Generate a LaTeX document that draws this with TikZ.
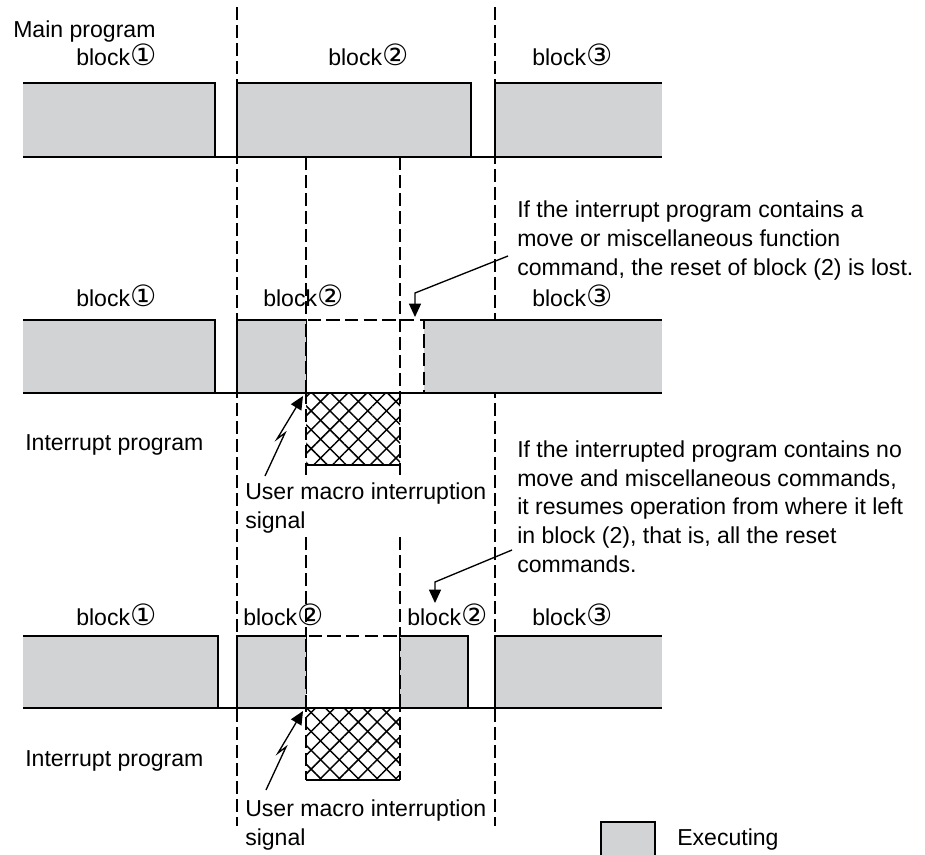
\documentclass[tikz,border=0pt]{standalone}
\usepackage{fontspec}
\setmainfont{Liberation Sans}
\newfontfamily\circfont{DejaVu Sans}
\usetikzlibrary{arrows.meta,patterns.meta}
\definecolor{execgray}{RGB}{209,211,212}
\newcommand{\blocklabel}[1]{block{\circfont\fontsize{22}{22}\selectfont #1}}

\begin{document}
\begin{tikzpicture}[x=0.75pt, y=-0.75pt,
    txt/.style={anchor=base west, inner sep=0pt, font=\fontsize{17.3}{21.4}\selectfont},
    note/.style={txt, align=left},
    exec/.style={fill=execgray},
    rowline/.style={line width=1.4pt},
    guide/.style={line width=1pt, dash pattern=on 9.5pt off 4pt},
    gapline/.style={line width=1.1pt, dash pattern=on 10pt off 4pt},
    hatchl/.style={pattern={Lines[angle=45,distance=10pt,line width=1.1pt]}},
    hatchr/.style={pattern={Lines[angle=-45,distance=10pt,line width=1.1pt]}},
    arr/.style={-{Triangle[width=9pt,length=10pt]}, line width=1pt}
]
    \useasboundingbox (0,0) rectangle (925,854);

    % interrupt program (hatched)
    \fill[hatchl] (306,393) rectangle (400,465);
    \fill[hatchr] (306,393) rectangle (400,465);
    \draw[rowline] (306,465) -- (400,465);
    \fill[hatchl] (306,708) rectangle (400,780);
    \fill[hatchr] (306,708) rectangle (400,780);
    \draw[rowline] (306,780) -- (400,780);

    % guide lines
    \draw[guide] (237,7) -- (237,826);
    \draw[guide] (495,7) -- (495,826);
    \draw[guide] (306,157) -- (306,475);
    \draw[guide] (400,157) -- (400,475);
    \draw[guide] (306,537) -- (306,780);
    \draw[guide] (400,537) -- (400,780);

    % main program
    \fill[exec] (23,83) rectangle (215,157);
    \fill[exec] (237,83) rectangle (471,157);
    \fill[exec] (495,83) rectangle (662,157);
    \draw[rowline] (23,83) -- (215,83) -- (215,157);
    \draw[rowline] (237,157) -- (237,83) -- (471,83) -- (471,157);
    \draw[rowline] (495,157) -- (495,83) -- (662,83);
    \draw[rowline] (23,157) -- (662,157);

    % reset of block 2 lost
    \fill[exec] (23,320) rectangle (215,393);
    \fill[exec] (237,320) rectangle (306,393);
    \fill[exec] (424,320) rectangle (662,393);
    \draw[rowline] (23,320) -- (215,320) -- (215,393);
    \draw[rowline] (237,393) -- (237,320) -- (306,320);
    \draw[rowline] (424,320) -- (662,320);
    \draw[rowline] (23,393) -- (662,393);
    \draw[gapline] (306,393) -- (306,320) -- (424,320) -- (424,393);

    % block 2 resumed
    \fill[exec] (23,636) rectangle (218,708);
    \fill[exec] (237,636) rectangle (306,708);
    \fill[exec] (400,636) rectangle (468,708);
    \fill[exec] (495,636) rectangle (662,708);
    \draw[rowline] (23,636) -- (218,636) -- (218,708);
    \draw[rowline] (237,708) -- (237,636) -- (306,636);
    \draw[rowline] (400,636) -- (468,636) -- (468,708);
    \draw[rowline] (495,708) -- (495,636) -- (662,636);
    \draw[rowline] (23,708) -- (662,708);
    \draw[gapline] (306,708) -- (306,636) -- (400,636) -- (400,708);

    % labels
    \node[txt] (mainprog) at (13,37) {Main program};
    \node[txt] (topb1) at (76,65) {\blocklabel{①}};
    \node[txt] (topb2) at (328,65) {\blocklabel{②}};
    \node[txt] (topb3) at (532,65) {\blocklabel{③}};

    \node[txt] (midb1) at (76,306) {\blocklabel{①}};
    \node[txt] (midb2) at (263,306) {\blocklabel{②}};
    \node[txt] (midb3) at (532,306) {\blocklabel{③}};
    \node[txt] (midint) at (25,450) {Interrupt program};
    \node[note] (midsig) at (245,528) {User macro interruption\\signal};

    \node[txt] (botb1) at (76,625) {\blocklabel{①}};
    \node[txt] (botb2) at (243,625) {\blocklabel{②}};
    \node[txt] (botb2r) at (407,625) {\blocklabel{②}};
    \node[txt] (botb3) at (532,625) {\blocklabel{③}};
    \node[txt] (botint) at (25,766) {Interrupt program};
    \node[note] (botsig) at (245,845) {User macro interruption\\signal};

    \node[note] (lostnote) at (517,275) {If the interrupt program contains a\\
        move or miscellaneous function\\command, the reset of block (2) is lost.};
    \node[note] (resumenote) at (517,572) {If the interrupted program contains no\\
        move and miscellaneous commands,\\it resumes operation from where it left\\
        in block (2), that is, all the reset\\commands.};

    % legend
    \fill[exec] (601,822) rectangle (655,856);
    \draw[line width=1pt] (601,856) -- (601,822) -- (655,822) -- (655,856);
    \node[txt] (execlbl) at (677,845) {Executing};

    % arrows
    \coordinate (lostfrom) at (508,256);
    \coordinate (lostbend) at (415,293);
    \coordinate (lostto) at (415,317);
    \draw[arr] (lostfrom) -- (lostbend) -- (lostto);

    \coordinate (resfrom) at (512,550);
    \coordinate (resbend) at (435,582);
    \coordinate (resto) at (435,603);
    \draw[arr] (resfrom) -- (resbend) -- (resto);

    \coordinate (sigfrom) at (265,476);
    \coordinate (sigto) at (303,396);
    \draw[arr] (sigfrom) -- ++(20,-43) -- ++(-8,6) -- (sigto);

    \coordinate (sigfromb) at (266,790);
    \coordinate (sigtob) at (303,711);
    \draw[arr] (sigfromb) -- ++(20,-43) -- ++(-8,6) -- (sigtob);
\end{tikzpicture}
\end{document}
